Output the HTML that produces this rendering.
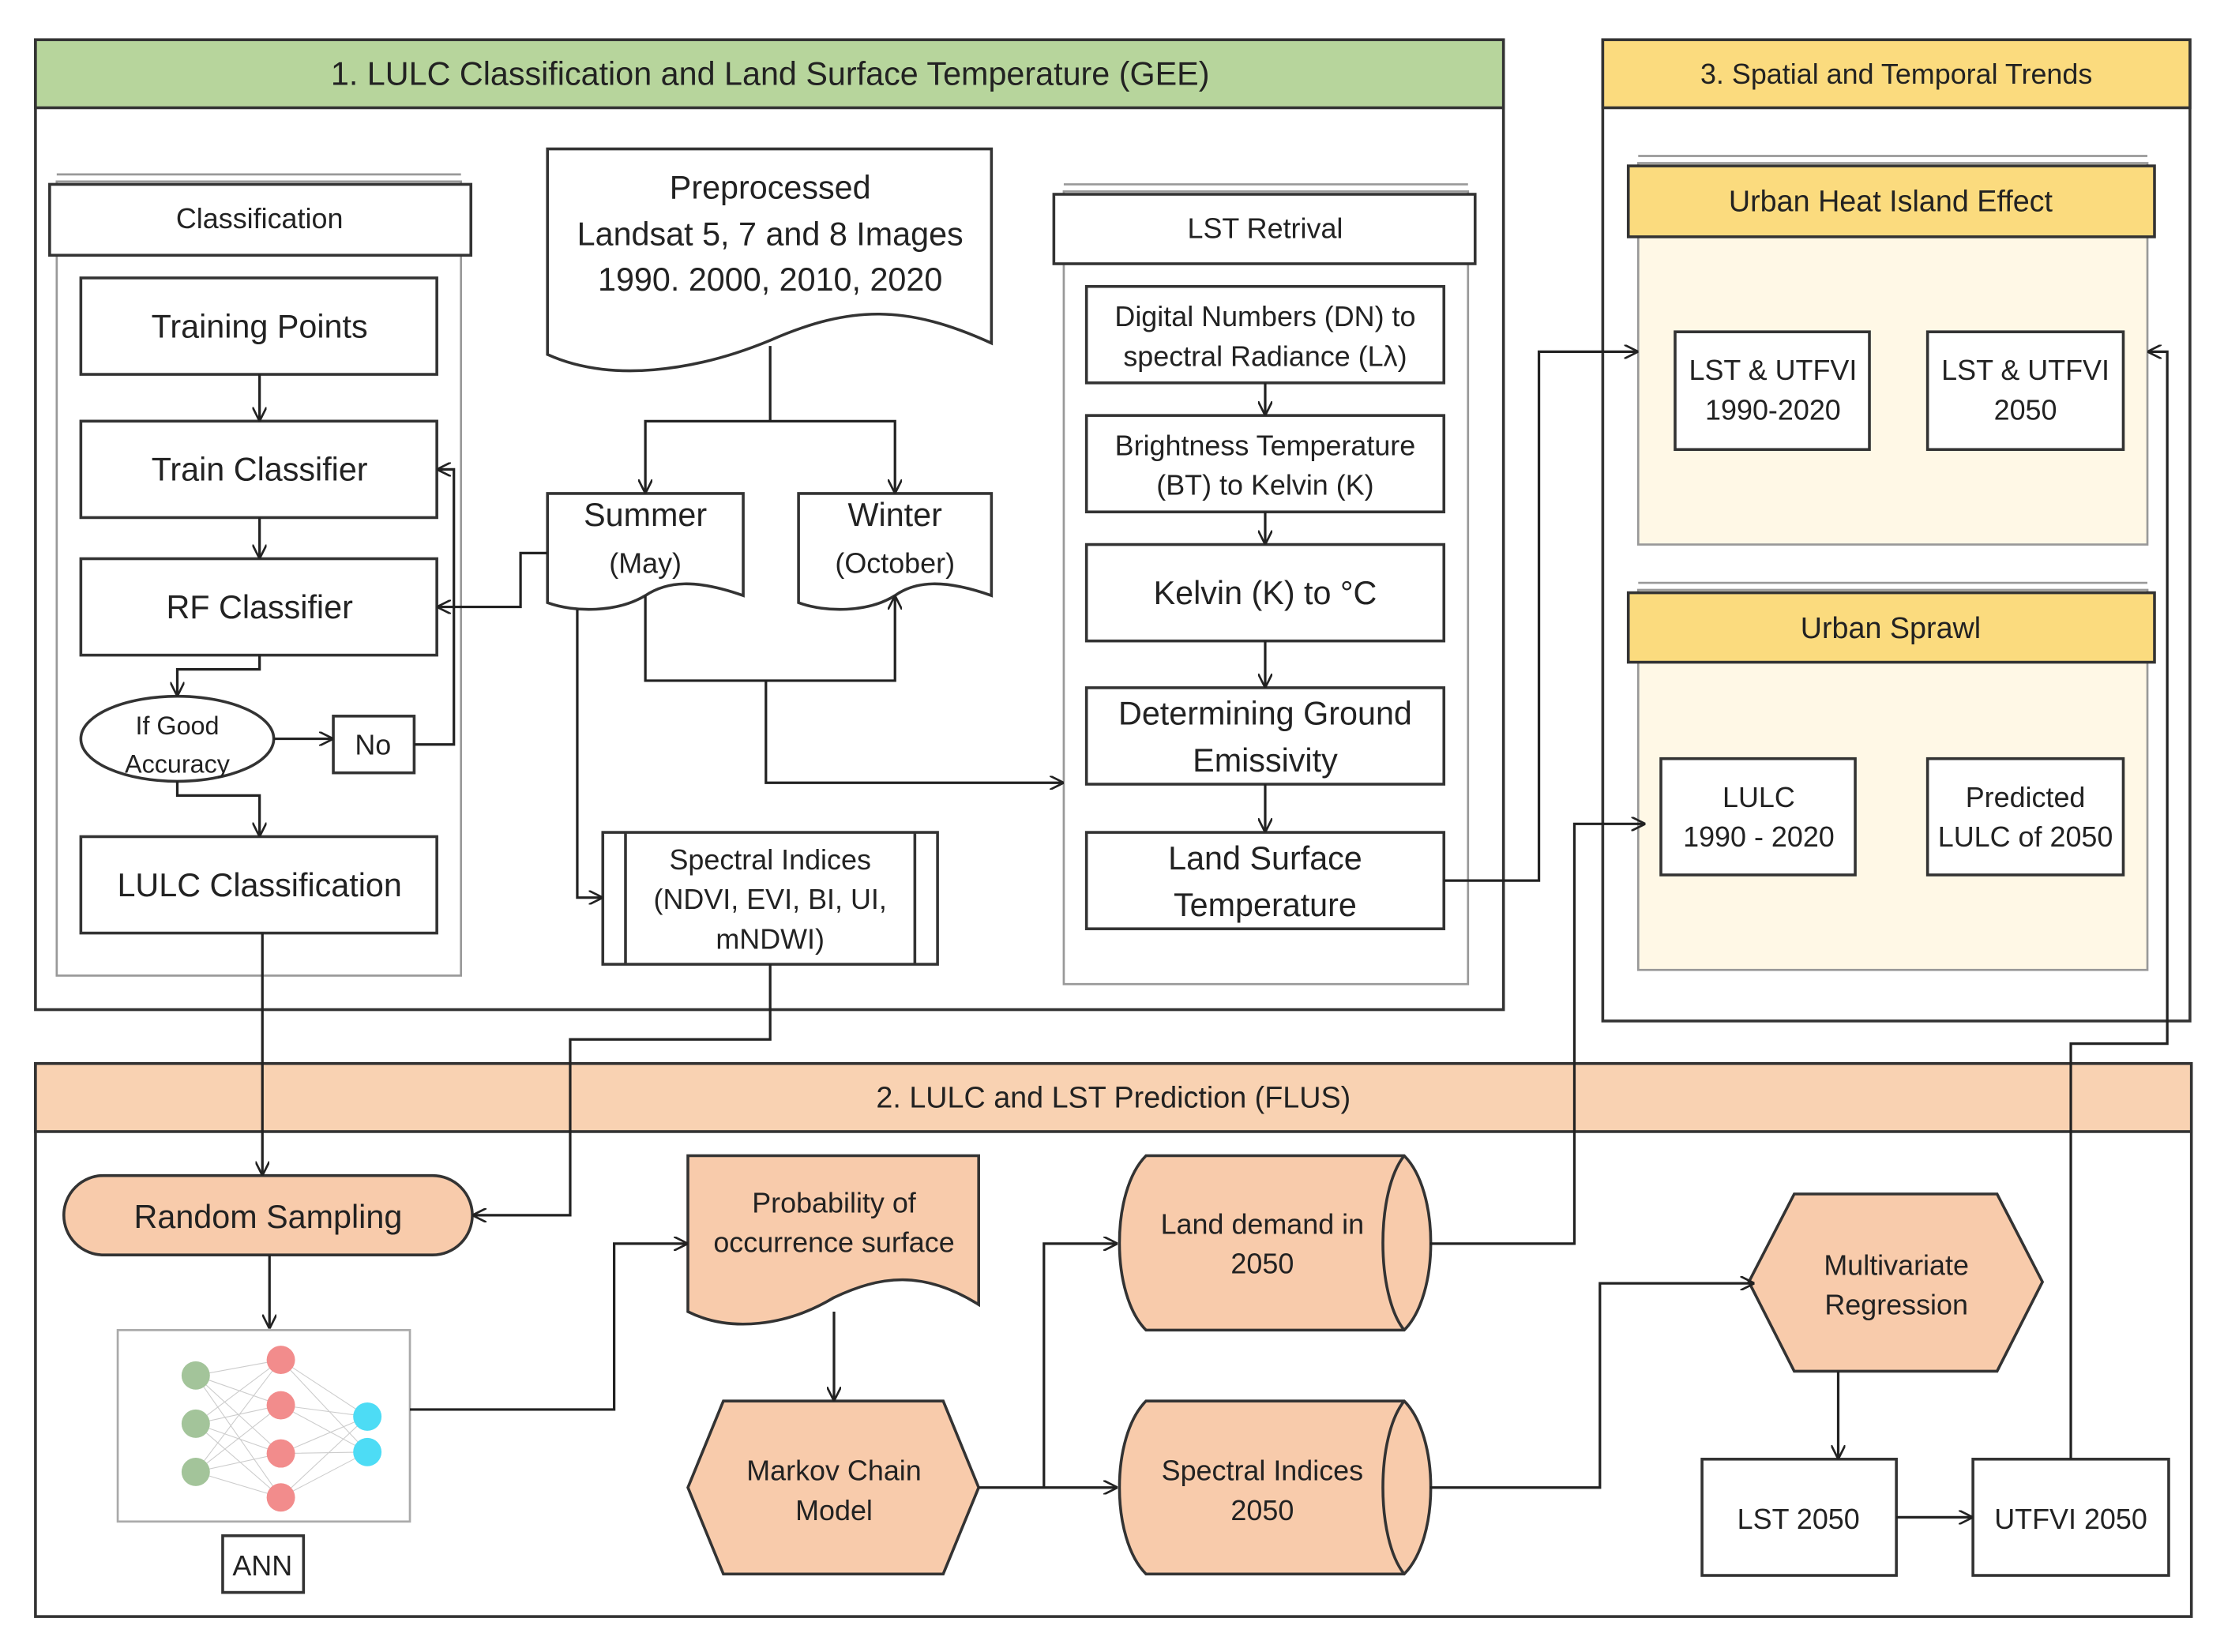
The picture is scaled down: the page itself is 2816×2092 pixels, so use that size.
<!DOCTYPE html>
<html><head><meta charset="utf-8"><style>html,body{margin:0;padding:0;background:#fff}svg{display:block}</style></head>
<body>
<svg xmlns="http://www.w3.org/2000/svg" width="2816" height="2092" viewBox="0 0 1568 1165" preserveAspectRatio="none" font-family="Liberation Sans, sans-serif">
<defs>
<marker id="a" viewBox="0 0 10 10" refX="10" refY="5" markerWidth="10" markerHeight="10" markerUnits="userSpaceOnUse" orient="auto"><path d="M0,0 L10,5 L0,10" fill="none" stroke="#222" stroke-width="1.5"/></marker>
</defs>
<rect width="1568" height="1165" fill="#fff"/>
<g stroke="#333" stroke-width="2" fill="none">
<rect x="25" y="28" width="1035" height="684" fill="#fff"/>
<rect x="25" y="28" width="1035" height="48" fill="#b7d59c"/>
<rect x="1130" y="28" width="414" height="692" fill="#fff"/>
<rect x="1130" y="28" width="414" height="48" fill="#fbdb7e"/>
<rect x="25" y="750" width="1520" height="390" fill="#fff"/>
<rect x="25" y="750" width="1520" height="48" fill="#f9d2b2"/>
</g>
<g font-size="23" fill="#222" text-anchor="middle">
<text x="543" y="60">1. LULC Classification and Land Surface Temperature (GEE)</text>
<text x="1337" y="59" font-size="20">3. Spatial and Temporal Trends</text>
<text x="785" y="781" font-size="21">2. LULC and LST Prediction (FLUS)</text>
</g>
<g stroke="#999" stroke-width="1.5" fill="none">
<rect x="40" y="128" width="285" height="560"/><line x1="40" y1="123" x2="325" y2="123"/>
<rect x="750" y="135" width="285" height="559"/><line x1="750" y1="130" x2="1035" y2="130"/>
<rect x="1155" y="115" width="359" height="269" fill="#fff8e6"/><line x1="1155" y1="110" x2="1514" y2="110"/>
<rect x="1155" y="416" width="359" height="268" fill="#fff8e6"/><line x1="1155" y1="411" x2="1514" y2="411"/>
</g>
<g stroke="#333" stroke-width="2" fill="#fff">
<rect x="35" y="130" width="297" height="50"/>
<rect x="57" y="196" width="251" height="68"/>
<rect x="57" y="297" width="251" height="68"/>
<rect x="57" y="394" width="251" height="68"/>
<ellipse cx="125" cy="521" rx="68" ry="30"/>
<rect x="235" y="505" width="57" height="40"/>
<rect x="57" y="590" width="251" height="68"/>
<path d="M386,105 H699 V242 C640,215 600,215 543,240 C490,262 430,270 386,250 Z"/>
<path d="M386,348 H524 V420 C490,408 470,410 455,420 C435,432 405,432 386,425 Z"/>
<path d="M563,348 H699 V420 C665,408 645,410 631,420 C612,432 582,432 563,425 Z"/>
<rect x="425" y="587" width="236" height="93"/>
<line x1="441" y1="587" x2="441" y2="680"/><line x1="645" y1="587" x2="645" y2="680"/>
<rect x="743" y="137" width="297" height="49"/>
<rect x="766" y="202" width="252" height="68"/>
<rect x="766" y="293" width="252" height="68"/>
<rect x="766" y="384" width="252" height="68"/>
<rect x="766" y="485" width="252" height="68"/>
<rect x="766" y="587" width="252" height="68"/>
<rect x="1148" y="117" width="371" height="50" fill="#fbdb7e"/>
<rect x="1181" y="234" width="137" height="83"/>
<rect x="1359" y="234" width="138" height="83"/>
<rect x="1148" y="418" width="371" height="49" fill="#fbdb7e"/>
<rect x="1171" y="535" width="137" height="82"/>
<rect x="1359" y="535" width="138" height="82"/>
<rect x="45" y="829" width="288" height="56" rx="28" fill="#f8cbab"/>
<rect x="83" y="938" width="206" height="135" stroke="#aaa" stroke-width="1.5"/>
<rect x="157" y="1083" width="57" height="40"/>
<path d="M485,815 H690 V920 C650,895 620,900 588,915 C555,935 515,940 485,925 Z" fill="#f8cbab"/>
<polygon points="510,988 665,988 690,1049 665,1110 510,1110 485,1049" fill="#f8cbab"/>
<path d="M808,815 H990 C1015,840 1015,913 990,938 H808 C783,913 783,840 808,815 Z" fill="#f8cbab"/>
<path d="M990,815 C970,840 970,913 990,938" fill="none"/>
<path d="M808,988 H990 C1015,1013 1015,1085 990,1110 H808 C783,1085 783,1013 808,988 Z" fill="#f8cbab"/>
<path d="M990,988 C970,1013 970,1085 990,1110" fill="none"/>
<polygon points="1265,842 1408,842 1440,904 1408,967 1265,967 1233,904" fill="#f8cbab"/>
<rect x="1200" y="1029" width="137" height="82"/>
<rect x="1391" y="1029" width="138" height="82"/>
</g>
<g stroke="#ccc" stroke-width="0.6">
<path d="M138,970 L198,959 M138,970 L198,991 M138,970 L198,1025 M138,970 L198,1056 M138,1004 L198,959 M138,1004 L198,991 M138,1004 L198,1025 M138,1004 L198,1056 M138,1038 L198,959 M138,1038 L198,991 M138,1038 L198,1025 M138,1038 L198,1056 M198,959 L259,999 M198,959 L259,1024 M198,991 L259,999 M198,991 L259,1024 M198,1025 L259,999 M198,1025 L259,1024 M198,1056 L259,999 M198,1056 L259,1024"/>
</g>
<g>
<circle cx="138" cy="970" r="10" fill="#a3c49a"/><circle cx="138" cy="1004" r="10" fill="#a3c49a"/><circle cx="138" cy="1038" r="10" fill="#a3c49a"/>
<circle cx="198" cy="959" r="10" fill="#f28c8c"/><circle cx="198" cy="991" r="10" fill="#f28c8c"/><circle cx="198" cy="1025" r="10" fill="#f28c8c"/><circle cx="198" cy="1056" r="10" fill="#f28c8c"/>
<circle cx="259" cy="999" r="10" fill="#4ddcf5"/><circle cx="259" cy="1024" r="10" fill="#4ddcf5"/>
</g>
<g stroke="#222" stroke-width="1.8" fill="none" marker-end="url(#a)">
<path d="M183,264 V297"/>
<path d="M183,365 V394"/>
<path d="M183,462 V472 H125 V491"/>
<path d="M193,521 H235"/>
<path d="M292,525 H320 V331 H308"/>
<path d="M125,551 V561 H183 V590"/>
<path d="M386,390 H367 V428 H308"/>
<path d="M543,244 V297 H455 V348"/>
<path d="M543,297 H631 V348"/>
<path d="M455,420 V480 H631 V420"/>
<path d="M540,480 V552 H750"/>
<path d="M407,430 V633 H425"/>
<path d="M892,270 V293"/>
<path d="M892,361 V384"/>
<path d="M892,452 V485"/>
<path d="M892,553 V587"/>
<path d="M1018,621 H1085 V248 H1155"/>
<path d="M543,680 V733 H402 V857 H333"/>
<path d="M185,658 V829"/>
<path d="M190,885 V937"/>
<path d="M289,994 H433 V877 H485"/>
<path d="M588,925 V988"/>
<path d="M690,1049 H788"/>
<path d="M736,1049 V877 H788"/>
<path d="M1008,877 H1110 V581 H1160"/>
<path d="M1008,1049 H1128 V905 H1237"/>
<path d="M1296,967 V1029"/>
<path d="M1337,1070 H1391"/>
<path d="M1460,1029 V736 H1528 V248 H1514"/>
</g>
<g font-size="20" fill="#222" text-anchor="middle">
<text x="183" y="161">Classification</text>
<text x="183" y="238" font-size="23">Training Points</text>
<text x="183" y="339" font-size="23">Train Classifier</text>
<text x="183" y="436" font-size="23">RF Classifier</text>
<text x="125" y="518" font-size="18">If Good</text><text x="125" y="545" font-size="18">Accuracy</text>
<text x="263" y="532">No</text>
<text x="183" y="632" font-size="23">LULC Classification</text>
<text x="543" y="140" font-size="23">Preprocessed</text>
<text x="543" y="173" font-size="23">Landsat 5, 7 and 8 Images</text>
<text x="543" y="205" font-size="23">1990. 2000, 2010, 2020</text>
<text x="455" y="371" font-size="23">Summer</text><text x="455" y="404">(May)</text>
<text x="631" y="371" font-size="23">Winter</text><text x="631" y="404">(October)</text>
<text x="543" y="613">Spectral Indices</text>
<text x="543" y="641">(NDVI, EVI, BI, UI,</text>
<text x="543" y="669">mNDWI)</text>
<text x="892" y="168">LST Retrival</text>
<text x="892" y="230">Digital Numbers (DN) to</text>
<text x="892" y="258">spectral Radiance (Lλ)</text>
<text x="892" y="321">Brightness Temperature</text>
<text x="892" y="349">(BT) to Kelvin (K)</text>
<text x="892" y="426" font-size="23">Kelvin (K) to °C</text>
<text x="892" y="511" font-size="23">Determining Ground</text>
<text x="892" y="544" font-size="23">Emissivity</text>
<text x="892" y="613" font-size="23">Land Surface</text>
<text x="892" y="646" font-size="23">Temperature</text>
<text x="1333" y="149" font-size="21">Urban Heat Island Effect</text>
<text x="1250" y="268">LST &amp; UTFVI</text><text x="1250" y="296">1990-2020</text>
<text x="1428" y="268">LST &amp; UTFVI</text><text x="1428" y="296">2050</text>
<text x="1333" y="450" font-size="21">Urban Sprawl</text>
<text x="1240" y="569">LULC</text><text x="1240" y="597">1990 - 2020</text>
<text x="1428" y="569">Predicted</text><text x="1428" y="597">LULC of 2050</text>
<text x="189" y="866" font-size="23">Random Sampling</text>
<text x="185" y="1111">ANN</text>
<text x="588" y="855">Probability of</text>
<text x="588" y="883">occurrence surface</text>
<text x="588" y="1044">Markov Chain</text>
<text x="588" y="1072">Model</text>
<text x="890" y="870">Land demand in</text>
<text x="890" y="898">2050</text>
<text x="890" y="1044">Spectral Indices</text>
<text x="890" y="1072">2050</text>
<text x="1337" y="899">Multivariate</text>
<text x="1337" y="927">Regression</text>
<text x="1268" y="1078">LST 2050</text>
<text x="1460" y="1078">UTFVI 2050</text>
</g>
</svg>
</body></html>
